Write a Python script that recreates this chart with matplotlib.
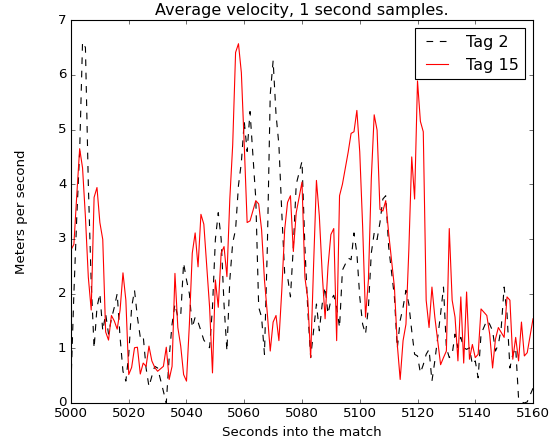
import matplotlib
matplotlib.use("Agg")
import matplotlib.pyplot as plt

# one sample per second; a few seconds have no sample
first_second = 5000
last_second = 5160
missing = [5031, 5047, 5063, 5079, 5095, 5111, 5127, 5143, 5159]

tag2 = [0.35, 2.0, 3.4, 4.6, 6.6, 6.5, 4.0, 2.2, 1.0,
        1.75, 2.0, 1.32, 1.63, 1.26, 1.54, 1.75, 2.0, 1.2,
        0.58, 0.4, 0.89, 1.75,
        2.06, 1.57, 1.2, 1.23, 0.64, 0.3, 0.49, 0.67, 0.64, 0.21,
        0.0, 0.83, 1.44, 1.81, 1.57, 1.6, 2.56, 2.25, 2.0, 1.38,
        1.57, 1.48, 1.32, 1.15, 1.01, 1.75, 2.99, 3.48, 3.0, 1.8,
        0.95, 2.25, 2.93, 3.17, 3.98, 4.4, 5.15, 4.6, 5.33, 3.73,
        1.75, 1.57, 0.89, 2.86, 5.64, 6.26, 5.28, 4.72, 3.48, 2.37,
        2.31, 1.94, 2.86, 4.0, 4.42, 2.86, 1.7, 0.83, 1.32, 1.81,
        1.32, 1.81, 2.12, 1.63, 1.88, 1.97, 1.75, 1.38, 2.43, 2.65,
        2.62, 3.11, 2.74, 1.94, 1.44, 1.26, 1.75, 2.74, 3.11, 2.99,
        3.3, 3.73, 3.79, 2.86, 1.94, 1.0, 1.51, 1.75, 2.06, 1.81,
        1.32, 0.89, 0.86, 0.55, 0.7, 0.89, 0.98, 0.4, 0.77, 1.63,
        2.12, 1.01, 0.83, 0.89, 1.26, 1.01, 1.2, 1.01, 0.98, 1.01,
        0.7, 0.77, 0.46, 1.26, 1.51, 1.44, 1.32, 0.95, 1.07, 1.38,
        2.12, 1.63, 0.64, 0.89, 1.01, 0.08, 0.02, 0.0, 0.02, 0.27]

tag15 = [2.8, 2.9, 3.8, 4.65, 4.3, 3.4, 2.3, 1.7, 3.76, 3.94,
         3.3, 2.99, 1.3, 1.15, 1.6, 1.5, 1.35, 1.7,
         2.38, 1.88, 0.52, 0.65,
         1.01, 1.02, 0.53, 0.73, 0.67, 1.04, 0.77, 0.65, 0.58, 0.67,
         1.02, 0.43, 0.67, 2.37, 1.38, 1.04, 0.52, 0.4, 1.44, 2.74,
         3.11, 2.49, 3.45, 3.27, 1.75, 0.55, 2.25, 1.75, 2.74, 2.86,
         2.31, 3.73, 4.72, 6.41, 6.57, 6.04, 4.72, 3.3, 3.33, 3.7,
         3.64, 3.17, 2.25, 1.63, 0.95, 1.48, 1.6, 1.14, 2.06, 3.17,
         3.67, 3.79, 2.77, 3.48, 4.04, 2.3, 1.9, 0.83, 2.5, 4.07,
         3.42, 2.37, 1.54, 2.49, 3.08, 3.19, 1.14, 3.79, 4.0, 4.59,
         4.93, 4.96, 5.35, 4.59, 3.23, 1.57, 2.25, 4.1, 5.27, 4.99,
         3.54, 3.51, 3.7, 3.11, 2.12, 1.07, 0.43, 1.14, 1.44, 2.8,
         4.5, 3.73, 5.89, 5.15, 4.96, 1.88, 1.38, 2.12, 1.57, 0.7,
         0.83, 0.95, 3.19, 1.88, 1.57, 0.77, 1.94, 0.73, 2.03, 0.8,
         1.07, 0.83, 0.89, 1.72, 1.6, 1.26, 0.64, 1.17, 1.38, 1.29,
         1.2, 1.94, 1.88, 0.8, 1.2, 0.77, 1.48, 0.86, 0.92, 1.54]

seconds = [s for s in range(first_second, last_second + 1) if s not in missing]

plt.style.use("classic")

fig = plt.figure(figsize=(559 / 80.0, 441 / 80.0), dpi=80, facecolor="white")
ax = fig.add_axes([0.127, 0.0862, 0.8265, 0.868])

ax.plot(seconds, tag2, "k--", label="Tag 2")
ax.plot(seconds, tag15, "r-", label="Tag 15")

ax.set_xlim(5000, 5160)
ax.set_ylim(0, 7)
ax.ticklabel_format(useOffset=False)

ax.set_title("Average velocity, 1 second samples.")
ax.set_xlabel("Seconds into the match")
ax.set_ylabel("Meters per second", labelpad=27)
ax.legend(loc="upper right")

fig.savefig("out.png", dpi=80, facecolor="white")
